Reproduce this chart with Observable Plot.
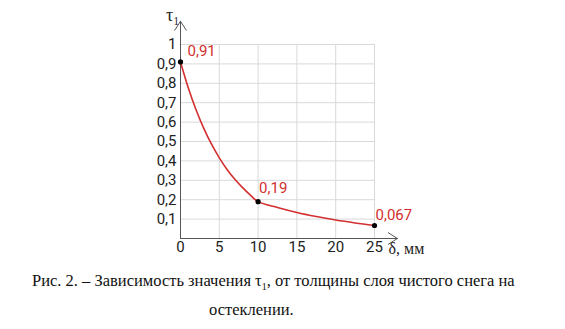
<!DOCTYPE html>
<html>
<head>
<meta charset="utf-8">
<script src="https://cdn.jsdelivr.net/npm/d3@7"></script>
<script src="https://cdn.jsdelivr.net/npm/@observablehq/plot@0.6"></script>
<style>
  html, body { margin: 0; padding: 0; background: #fff; }
  #wrap { position: relative; width: 565px; height: 329px; overflow: hidden; }
  #chart svg { display: block; }
  .cap { position: absolute; font-family: "Liberation Serif", serif; font-size: 16.5px; color: #111; white-space: nowrap; line-height: 20px; }
</style>
</head>
<body>
<div id="wrap">
  <div id="chart"></div>
  <div class="cap" id="cap1" style="left:32px; top:271px;">Рис. 2. – Зависимость значения τ<sub style="font-size:10px">1</sub>, от толщины слоя чистого снега на</div>
  <div class="cap" id="cap2" style="left:209px; top:300px;">остеклении.</div>
</div>
<script>
// Curve: thickness δ (mm) vs τ1
const deltaMm = [0, 1, 2, 3, 4, 5, 6, 7, 8, 9, 10, 12.5, 15, 17.5, 20, 22.5, 25];
const tau1 = [0.91, 0.777, 0.664, 0.568, 0.486, 0.416, 0.356, 0.305, 0.262, 0.224, 0.19, 0.16, 0.134, 0.113, 0.095, 0.08, 0.067];

// Marked points and their labels
const markX = [0, 10, 25];
const markY = [0.91, 0.19, 0.067];
const markLabels = ["0,91", "0,19", "0,067"];

// Ticks
const xTicks = [0, 5, 10, 15, 20, 25];
const yTicks = [0.1, 0.2, 0.3, 0.4, 0.5, 0.6, 0.7, 0.8, 0.9, 1];
const xGrid = [5, 10, 15, 20, 25];

const curve = deltaMm.map((d, i) => ({x: d, y: tau1[i]}));
const marks = markX.map((d, i) => ({x: d, y: markY[i], label: markLabels[i]}));

const red = "#d32f2f";
const axisColor = "#555";
const fmt = v => String(v).replace(".", ",");

const plot = Plot.plot({
  width: 565,
  height: 262,
  marginLeft: 180,
  marginRight: 191,
  marginTop: 44,
  marginBottom: 24,
  x: {domain: [0, 25]},
  y: {domain: [0, 1]},
  style: {fontFamily: "Roboto, sans-serif", fontSize: "15px", color: "#222", background: "#fff"},
  marks: [
    Plot.gridX(xGrid, {stroke: "#d9d9d9", strokeOpacity: 1}),
    Plot.gridY(yTicks, {stroke: "#d9d9d9", strokeOpacity: 1}),
    Plot.axisY(yTicks, {tickSize: 0, tickPadding: 4, tickFormat: fmt, label: null, fontSize: 15, fill: "#222"}),
    Plot.axisX(xTicks, {tickSize: 0, tickPadding: 3, tickFormat: fmt, label: null, fontSize: 15, fill: "#222"}),
    Plot.arrow([{x1: 0, y1: 0, x2: 27.95, y2: 0}], {x1: "x1", y1: "y1", x2: "x2", y2: "y2", stroke: axisColor, strokeWidth: 1, headLength: 16, headAngle: 65, insetEnd: 0}),
    Plot.arrow([{x1: 0, y1: 0, x2: 0, y2: 1.12}], {x1: "x1", y1: "y1", x2: "x2", y2: "y2", stroke: axisColor, strokeWidth: 1, headLength: 16, headAngle: 65, insetEnd: 0}),
    Plot.line(curve, {x: "x", y: "y", stroke: red, strokeWidth: 1.6, curve: "catmull-rom"}),
    Plot.dot(marks, {x: "x", y: "y", r: 2.6, fill: "#000"}),
    Plot.text([marks[0]], {x: "x", y: "y", text: "label", fill: red, textAnchor: "start", dx: 7, dy: -11, fontSize: 15}),
    Plot.text([marks[1]], {x: "x", y: "y", text: "label", fill: red, textAnchor: "start", dx: 1, dy: -13, fontSize: 15}),
    Plot.text([marks[2]], {x: "x", y: "y", text: "label", fill: red, textAnchor: "start", dx: 1, dy: -10, fontSize: 15}),
    Plot.text([{x: 0, y: 1.12}], {x: "x", y: "y", text: () => "τ₁", textAnchor: "end", dx: -1, dy: -6, fontFamily: "Liberation Serif, serif", fontSize: 18, fill: "#222"}),
    Plot.text([{x: 25, y: 0}], {x: "x", y: "y", text: () => "δ, мм", textAnchor: "start", dx: 14, dy: 10, fontFamily: "Liberation Serif, serif", fontSize: 16, fill: "#222"})
  ]
});
document.getElementById("chart").appendChild(plot);
</script>
</body>
</html>
